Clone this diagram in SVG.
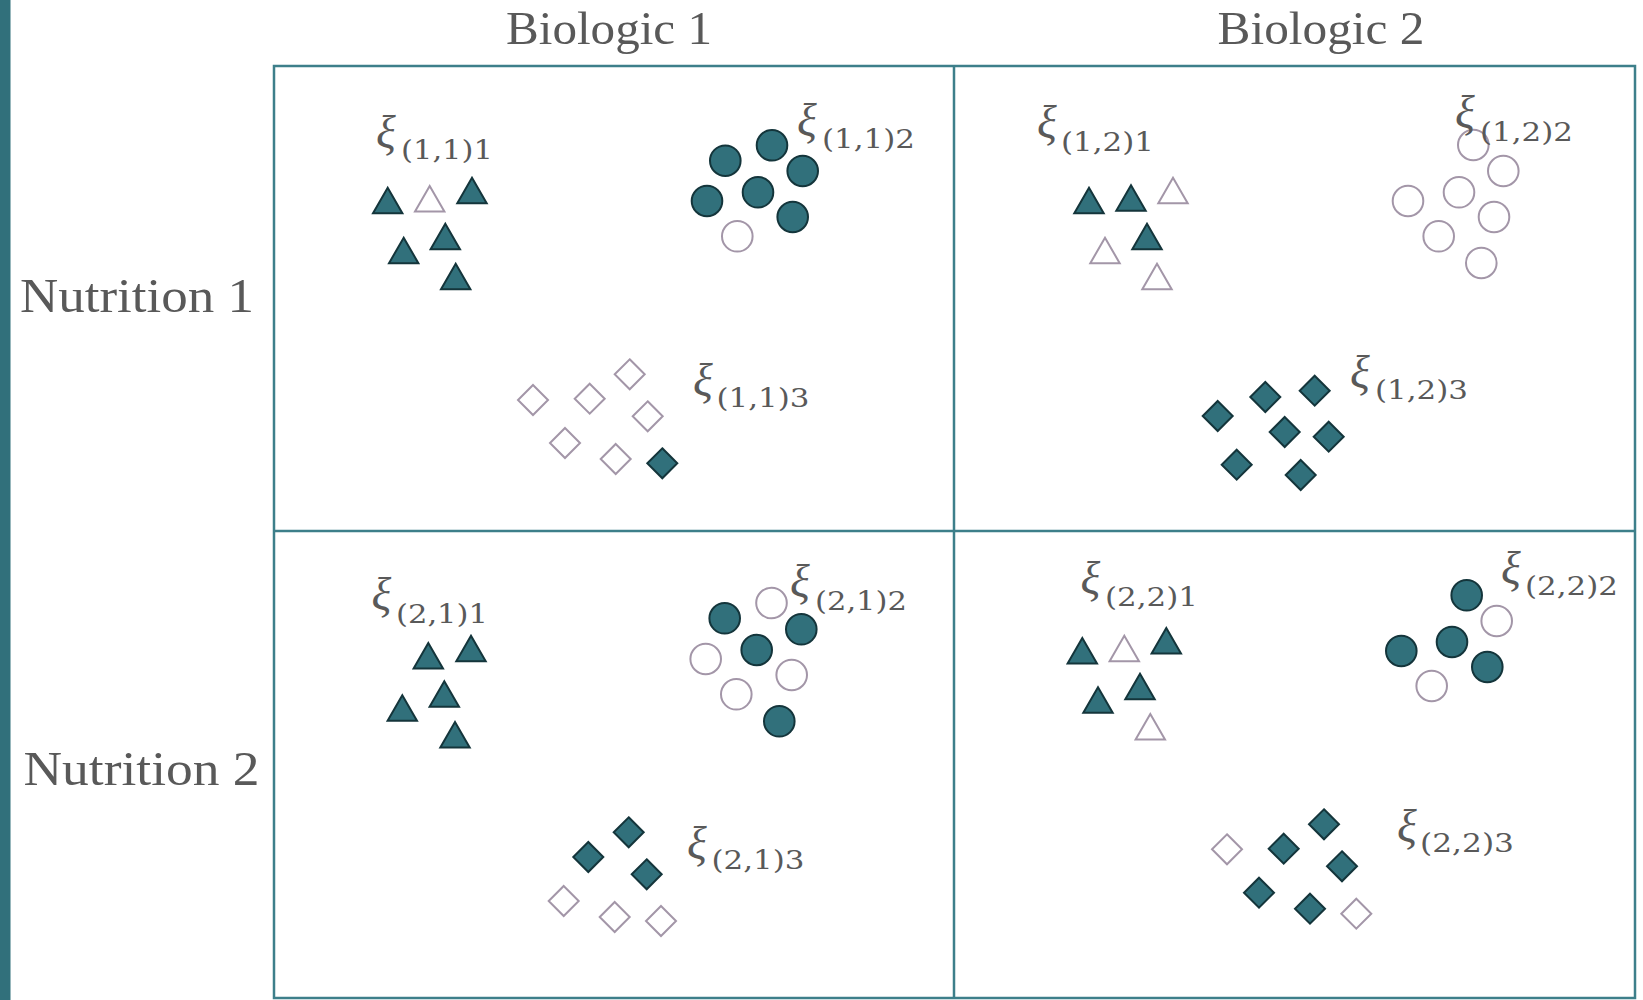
<svg xmlns="http://www.w3.org/2000/svg" xmlns:xlink="http://www.w3.org/1999/xlink" width="1643" height="1000" viewBox="0 0 1643 1000">
<style>
.hdr{font-family:"Liberation Serif","Times New Roman",serif;fill:#595959;}
.xi{font-family:"Liberation Serif","Times New Roman",serif;font-style:italic;font-size:46px;fill:#595959;}
.sub{font-family:"DejaVu Serif",serif;font-size:26px;fill:#595959;}
.f{fill:#31707B;stroke:#14353B;stroke-width:2;}
.o{fill:#FFFFFF;stroke:#A396A8;stroke-width:2;}
.grid{fill:none;stroke:#3D7F8A;stroke-width:2.5;}
</style>
<defs>
<path id="tri" d="M0,2 L14.7,27.5 L-14.7,27.5 Z"/>
<circle id="cir" r="15.3"/>
<path id="dia" d="M0,-15 L15,0 L0,15 L-15,0 Z"/>
</defs>
<rect x="0" y="0" width="1643" height="1000" fill="#FFFFFF"/>
<rect id="sidebar" x="0" y="0" width="10.5" height="1000" fill="#31707B"/>

<g id="grid">
<rect class="grid" x="274" y="66" width="1361" height="932"/>
<line class="grid" x1="954" y1="66" x2="954" y2="998"/>
<line class="grid" x1="274" y1="531" x2="1635" y2="531"/>
</g>

<g id="headers">
<text id="biologic1" class="hdr" x="506" y="43.5" font-size="47" textLength="206" lengthAdjust="spacingAndGlyphs">Biologic 1</text>
<text id="biologic2" class="hdr" x="1217.5" y="43.5" font-size="47" textLength="207" lengthAdjust="spacingAndGlyphs">Biologic 2</text>
<text id="nutrition1" class="hdr" x="20" y="311.5" font-size="48" textLength="234" lengthAdjust="spacingAndGlyphs">Nutrition 1</text>
<text id="nutrition2" class="hdr" x="23.5" y="785" font-size="48" textLength="236" lengthAdjust="spacingAndGlyphs">Nutrition 2</text>
</g>

<g id="cell-1-1">
<g id="c11-triangles">
<use href="#tri" class="f" x="387.7" y="185.7"/>
<use href="#tri" class="o" x="429.7" y="184"/>
<use href="#tri" class="f" x="472" y="175.7"/>
<use href="#tri" class="f" x="403.7" y="235.7"/>
<use href="#tri" class="f" x="445.3" y="221.7"/>
<use href="#tri" class="f" x="455.7" y="261.7"/>
</g>
<g id="c11-circles">
<use href="#cir" class="f" x="725.3" y="160.7"/>
<use href="#cir" class="f" x="772" y="145.3"/>
<use href="#cir" class="f" x="802.7" y="171"/>
<use href="#cir" class="f" x="707" y="201"/>
<use href="#cir" class="f" x="758" y="192.3"/>
<use href="#cir" class="f" x="792.7" y="217"/>
<use href="#cir" class="o" x="737.3" y="236.3"/>
</g>
<g id="c11-diamonds">
<use href="#dia" class="o" x="533" y="400"/>
<use href="#dia" class="o" x="589.7" y="398.7"/>
<use href="#dia" class="o" x="629.7" y="374.3"/>
<use href="#dia" class="o" x="647.7" y="416.3"/>
<use href="#dia" class="o" x="565" y="443"/>
<use href="#dia" class="o" x="615.7" y="459"/>
<use href="#dia" class="f" x="662.3" y="463.3"/>
</g>
<g id="c11-labels">
<text class="xi" x="376" y="148">ξ</text><text class="sub" x="401" y="159" textLength="92" lengthAdjust="spacingAndGlyphs">(1,1)1</text>
<text class="xi" x="797" y="136">ξ</text><text class="sub" x="822" y="147.5" textLength="93" lengthAdjust="spacingAndGlyphs">(1,1)2</text>
<text class="xi" x="693" y="396">ξ</text><text class="sub" x="716.5" y="407" textLength="93" lengthAdjust="spacingAndGlyphs">(1,1)3</text>
</g>
</g>

<g id="cell-1-2">
<g id="c12-triangles">
<use href="#tri" class="f" x="1089" y="185.7"/>
<use href="#tri" class="f" x="1131" y="183.3"/>
<use href="#tri" class="o" x="1173" y="175.7"/>
<use href="#tri" class="o" x="1105" y="235.7"/>
<use href="#tri" class="f" x="1147" y="221.7"/>
<use href="#tri" class="o" x="1157" y="261.7"/>
</g>
<g id="c12-circles">
<use href="#cir" class="o" x="1473.3" y="145"/>
<use href="#cir" class="o" x="1503.3" y="171"/>
<use href="#cir" class="o" x="1408" y="201"/>
<use href="#cir" class="o" x="1459" y="192.3"/>
<use href="#cir" class="o" x="1494" y="217"/>
<use href="#cir" class="o" x="1438.7" y="236.3"/>
<use href="#cir" class="o" x="1481.3" y="263"/>
</g>
<g id="c12-diamonds">
<use href="#dia" class="f" x="1217.7" y="416"/>
<use href="#dia" class="f" x="1265.3" y="397"/>
<use href="#dia" class="f" x="1314.7" y="390.7"/>
<use href="#dia" class="f" x="1284.7" y="432"/>
<use href="#dia" class="f" x="1328.7" y="436.7"/>
<use href="#dia" class="f" x="1236.7" y="464.7"/>
<use href="#dia" class="f" x="1300.7" y="475"/>
</g>
<g id="c12-labels">
<text class="xi" x="1037" y="138">ξ</text><text class="sub" x="1061" y="150.5" textLength="93" lengthAdjust="spacingAndGlyphs">(1,2)1</text>
<text class="xi" x="1455" y="128">ξ</text><text class="sub" x="1480" y="140.5" textLength="93" lengthAdjust="spacingAndGlyphs">(1,2)2</text>
<text class="xi" x="1350" y="388">ξ</text><text class="sub" x="1375" y="398.5" textLength="93" lengthAdjust="spacingAndGlyphs">(1,2)3</text>
</g>
</g>

<g id="cell-2-1">
<g id="c21-triangles">
<use href="#tri" class="f" x="428.3" y="641"/>
<use href="#tri" class="f" x="471" y="633.7"/>
<use href="#tri" class="f" x="444.3" y="679.3"/>
<use href="#tri" class="f" x="402.3" y="693.3"/>
<use href="#tri" class="f" x="455" y="720"/>
</g>
<g id="c21-circles">
<use href="#cir" class="f" x="724.7" y="618.3"/>
<use href="#cir" class="o" x="771.5" y="603"/>
<use href="#cir" class="f" x="801.3" y="629.3"/>
<use href="#cir" class="f" x="756.7" y="650"/>
<use href="#cir" class="o" x="705.7" y="659"/>
<use href="#cir" class="o" x="791.7" y="675"/>
<use href="#cir" class="o" x="736.3" y="694.3"/>
<use href="#cir" class="f" x="779.3" y="721.3"/>
</g>
<g id="c21-diamonds">
<use href="#dia" class="f" x="628.7" y="832.3"/>
<use href="#dia" class="f" x="588.3" y="857"/>
<use href="#dia" class="f" x="646.7" y="874.3"/>
<use href="#dia" class="o" x="563.7" y="901"/>
<use href="#dia" class="o" x="614.7" y="917"/>
<use href="#dia" class="o" x="661" y="921"/>
</g>
<g id="c21-labels">
<text class="xi" x="371.5" y="610">ξ</text><text class="sub" x="396" y="623" textLength="92" lengthAdjust="spacingAndGlyphs">(2,1)1</text>
<text class="xi" x="790" y="597">ξ</text><text class="sub" x="815" y="609.5" textLength="92" lengthAdjust="spacingAndGlyphs">(2,1)2</text>
<text class="xi" x="687" y="859">ξ</text><text class="sub" x="711.5" y="868.5" textLength="93" lengthAdjust="spacingAndGlyphs">(2,1)3</text>
</g>
</g>

<g id="cell-2-2">
<g id="c22-triangles">
<use href="#tri" class="f" x="1082.3" y="636"/>
<use href="#tri" class="o" x="1124.3" y="633.7"/>
<use href="#tri" class="f" x="1166.3" y="626"/>
<use href="#tri" class="f" x="1140" y="671.7"/>
<use href="#tri" class="f" x="1098" y="685.3"/>
<use href="#tri" class="o" x="1150.3" y="712"/>
</g>
<g id="c22-circles">
<use href="#cir" class="f" x="1466.7" y="595.3"/>
<use href="#cir" class="o" x="1496.7" y="621"/>
<use href="#cir" class="f" x="1401.3" y="651"/>
<use href="#cir" class="f" x="1452" y="642"/>
<use href="#cir" class="f" x="1487.3" y="667"/>
<use href="#cir" class="o" x="1431.7" y="686"/>
</g>
<g id="c22-diamonds">
<use href="#dia" class="o" x="1227" y="849.3"/>
<use href="#dia" class="f" x="1283.7" y="848.7"/>
<use href="#dia" class="f" x="1324" y="824.3"/>
<use href="#dia" class="f" x="1342" y="866.3"/>
<use href="#dia" class="f" x="1259" y="892.7"/>
<use href="#dia" class="f" x="1310" y="908.7"/>
<use href="#dia" class="o" x="1356.3" y="913.7"/>
</g>
<g id="c22-labels">
<text class="xi" x="1080.5" y="594">ξ</text><text class="sub" x="1105" y="605.5" textLength="93" lengthAdjust="spacingAndGlyphs">(2,2)1</text>
<text class="xi" x="1501" y="584">ξ</text><text class="sub" x="1525" y="594.5" textLength="93" lengthAdjust="spacingAndGlyphs">(2,2)2</text>
<text class="xi" x="1397" y="842">ξ</text><text class="sub" x="1420" y="851.5" textLength="94" lengthAdjust="spacingAndGlyphs">(2,2)3</text>
</g>
</g>
</svg>
